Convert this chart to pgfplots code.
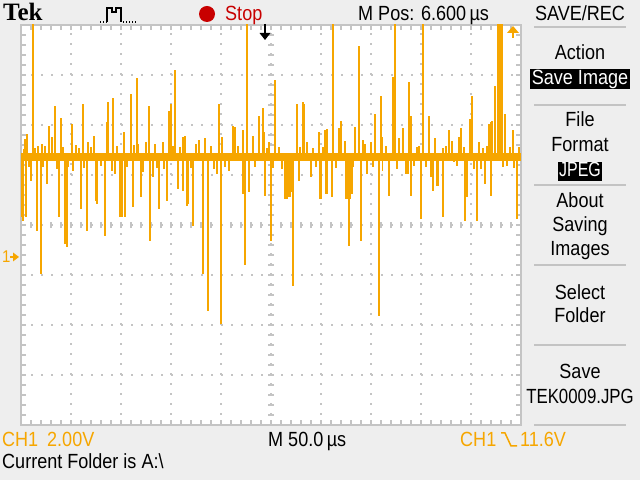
\documentclass[border=0pt]{standalone}
\usepackage{pgfplots}
\pgfplotsset{compat=1.18}
\usepackage{pgfplotstable}
\usepackage{fontspec}
\setmainfont[FakeStretch=0.88]{Liberation Sans}
\newfontfamily\narrowA[FakeStretch=0.82]{Liberation Sans}
\newfontfamily\narrowB[FakeStretch=0.78]{Liberation Sans}
\newfontfamily\tekfont{Liberation Serif}
\definecolor{bg}{RGB}{238,238,238}
\definecolor{wave}{RGB}{246,166,0}
\definecolor{grid}{RGB}{196,196,196}
\definecolor{sep}{RGB}{195,195,195}
\definecolor{stopred}{RGB}{200,0,0}
\newcommand\scopefont{\fontsize{20.5bp}{24bp}\selectfont}

% x in microseconds from left edge (50 us/div), y in volts relative to the trace baseline (2 V/div)
\pgfplotstableread{
x y
1 -2.4
2.3 -2.56
3 0.3
4 0.72
5 -2.4
5.7 0.92
8 -0.4
9.7 -0.96
12.3 5.4
14 0.36
15.7 -2.96
17 0.44
20 -4.68
20.7 0.52
22 -0.4
24 0.44
25.7 -1.08
28 1.24
31 0.8
34 2.04
36 -0.48
38.3 -2.4
39.7 1.56
42 0.4
44 -3.48
45.7 -3.6
47 -0.4
51 1.32
52 -0.56
55 0.48
58 0.36
59.7 -2.08
61.7 2.12
63 -0.44
65.7 -2.96
67.3 0.6
70 0.4
73 0.84
75 -1.76
76.3 -1.88
80 -0.36
84 -3.16
85.7 1.4
87 2.2
90.7 -0.56
91.7 2.36
94 -0.68
96 0.44
99 -2.4
100.7 -2.4
103 1.0
104 -2.4
106 -0.4
110 2.52
111.7 -2.0
113 0.48
115.7 3.16
117 0.52
119.7 -1.6
122 -0.6
125 0.6
128 2.04
128.6 -3.36
131.7 -0.8
134 0.52
136 -0.44
138.3 -2.08
141.7 0.6
143 -0.5
145.7 -1.76
148.3 1.84
150 2.12
152 0.44
154 3.48
157.3 -1.28
159 0.4
161.7 -1.36
162.3 0.8
164 0.84
165.7 -1.96
167.3 -1.88
170 -0.44
171.7 -2.76
175 0.5
178 0.68
181.7 -4.68
184 0.76
187.3 -6.16
190 0.44
193 -0.5
195.7 -0.68
198.3 2.12
200 -6.68
200.6 0.8
204 -0.4
208.3 -0.56
212.3 1.24
214 1.2
217 0.44
221.7 1.08
221.9 -1.48
224 -4.32
225.7 5.4
228.3 -1.4
231.7 0.84
234 -0.4
238.3 1.64
241.7 1.96
243.3 1.0
244 -1.56
246 0.36
248.3 0.6
249.7 -3.36
252 -0.44
254 3.08
258 0.4
261 -0.48
264 -1.68
265 -1.6
266 -1.68
267.5 -1.6
269 -1.6
270 -1.4
271.7 -5.16
275.7 2.12
278 -0.96
279 0.4
281.7 2.2
283 2.12
286.3 0.6
289.7 -0.8
292 0.36
295 -0.4
298.3 1.0
299 -1.68
300 -1.68
302 0.4
304 1.08
304.5 -1.48
306 -1.48
306.3 1.12
310.7 -1.6
312.3 5.4
315 -0.44
318.3 1.16
320 1.44
324 0.64
324.5 -1.68
326 -1.68
327 -1.68
328 -3.56
329 -1.68
330.7 -1.48
332 -0.4
334 1.2
338 4.44
339.7 -3.36
341.7 0.68
344 0.5
345.7 -0.68
349.7 0.6
352 -0.4
354 1.72
358 -6.36
359.7 2.44
361.3 0.8
361.5 -0.56
365 0.44
368.3 -1.56
371.7 3.2
374 5.4
376 -0.48
378 0.76
382.3 1.16
385 -0.68
387 -0.68
388 3.0
389.7 1.64
390 -1.56
393 -0.36
396.3 0.4
398 0.44
400 -2.48
401.7 5.4
405 -0.4
408 1.64
410 -0.8
411.7 -1.36
414 0.76
415.7 -1.16
417.3 -1.16
421.7 0.36
421.9 -2.4
425 0.44
428 1.08
430.7 0.64
433.3 -0.2
436 -0.36
438.3 0.8
440 1.16
443 0.4
444 -2.56
445.7 -1.6
449 1.52
451.3 2.44
453 -0.48
456.3 -2.56
458.3 0.6
460 -0.48
462.3 0.36
464 -1.08
466 0.44
468.3 1.32
469.5 1.4
469.7 -1.56
470.7 1.44
474 2.84
477.3 5.4
479 5.4
480.7 5.4
482.3 -0.4
484 1.72
486 -0.36
489 0.4
491.7 1.08
493 -0.44
495.7 -2.48
498 0.4
}\spikes

\begin{document}
\begin{tikzpicture}[x=1bp,y=1bp,every node/.style={inner sep=0pt,font=\scopefont}]
\path[use as bounding box, fill=bg] (0,0) rectangle (640,480);
\begin{axis}[
  at={(21bp,55bp)}, anchor=south west, scale only axis,
  width=500bp, height=400bp,
  xmin=0, xmax=500, ymin=-10.72, ymax=5.28,
  axis background/.style={fill=white},
  axis line style={draw=grid, line width=1.6bp},
  xtick={0,50,...,500},
  ytick={-10.72,-8.72,-6.72,-4.72,-2.72,-0.72,1.28,3.28,5.28},
  minor x tick num=4, minor y tick num=4,
  tick align=inside,
  major tick length=5bp, minor tick length=5bp,
  every tick/.style={draw=grid, line width=1.3bp},
  xticklabels={}, yticklabels={},
  grid=major,
  major grid style={draw=grid, line width=1.6bp, dash pattern=on 1.6bp off 8.4bp},
]
\pgfplotsinvokeforeach{10,20,...,490}{
  \draw[grid, line width=1.3bp] (axis cs:#1,-2.72) ++(0bp,-3bp) -- ++(0bp,6bp);
}
\pgfplotsinvokeforeach{-10.32,-9.92,...,5.0}{
  \draw[grid, line width=1.3bp] (axis cs:250,#1) ++(-3bp,0bp) -- ++(6bp,0bp);
}
\addplot[wave, line width=8bp] coordinates {(0,0) (500,0)};
\addplot[wave, line width=1.9bp, ycomb, mark=none] table[x=x,y=y] {\spikes};
\end{axis}

% trigger position marker (black) and trigger level marker (orange)
\draw[black, line width=1.6bp] (265,456) -- (265,441);
\fill[black] (259.5,447) -- (270.5,447) -- (265,440) -- cycle;
\fill[wave] (507,447) -- (519,447) -- (513,454) -- cycle;
\draw[wave, line width=1.6bp] (513,450) -- (513,442);
% ground marker
\node[anchor=base west, text=wave, font=\fontsize{17bp}{20bp}\selectfont] at (2,217) {1};
\draw[wave, line width=1.4bp] (10,223) -- (15,223);
\fill[wave] (13,218.5) -- (19,223) -- (13,227.5) -- cycle;

% top bar
\node[anchor=base west, font={\fontsize{25bp}{28bp}\tekfont\bfseries}] at (3,459) {Tek};
\draw[black, line width=1.2bp, dash pattern=on 1.2bp off 1.8bp] (100,458) -- (107,458);
\draw[black, line width=1.3bp] (107,458) -- (107,472) -- (112,472) -- (112,468) -- (116,468) -- (116,472) -- (121,472) -- (121,458);
\draw[black, line width=1.2bp, dash pattern=on 1.2bp off 1.8bp] (123,458) -- (137,458);
\fill[stopred] (207,466) circle (8);
\node[anchor=base west, text=stopred] at (225,459) {Stop};
\node[anchor=base west] at (358,459) {M Pos: 6.600\,µs};
\node[anchor=base] at (580,459) {SAVE/REC};

% right menu
\foreach \yy in {453,375,295,215,135,55} {
  \draw[sep, line width=2bp] (534,\yy) -- (626,\yy);
}
\node[anchor=base] at (580,420) {Action};
\fill[black] (530,391) rectangle (630,411);
\node[anchor=base, text=white] at (580,395) {Save Image};
\node[anchor=base] at (580,353) {File};
\node[anchor=base] at (580,328) {Format};
\fill[black] (558,299) rectangle (602,318);
\node[anchor=base, text=white, font={\scopefont\narrowB}] at (580,303) {JPEG};
\node[anchor=base] at (580,272) {About};
\node[anchor=base] at (580,248) {Saving};
\node[anchor=base] at (580,224) {Images};
\node[anchor=base] at (580,180) {Select};
\node[anchor=base] at (580,157) {Folder};
\node[anchor=base] at (580,101) {Save};
\node[anchor=base, font={\scopefont\narrowA}] at (580,76) {TEK0009.JPG};

% bottom bar
\node[anchor=base west, text=wave] at (2,33) {CH1};
\node[anchor=base west, text=wave] at (47,33) {2.00V};
\node[anchor=base west] at (268,33) {M 50.0\,µs};
\node[anchor=base west, text=wave] at (460,33) {CH1};
\draw[wave, line width=1.5bp] (501,47) -- (505,47) -- (511,34) -- (517,34);
\node[anchor=base west, text=wave] at (520,33) {11.6V};
\node[anchor=base west] at (2,11) {Current Folder is A:\textbackslash};
\end{tikzpicture}
\end{document}
